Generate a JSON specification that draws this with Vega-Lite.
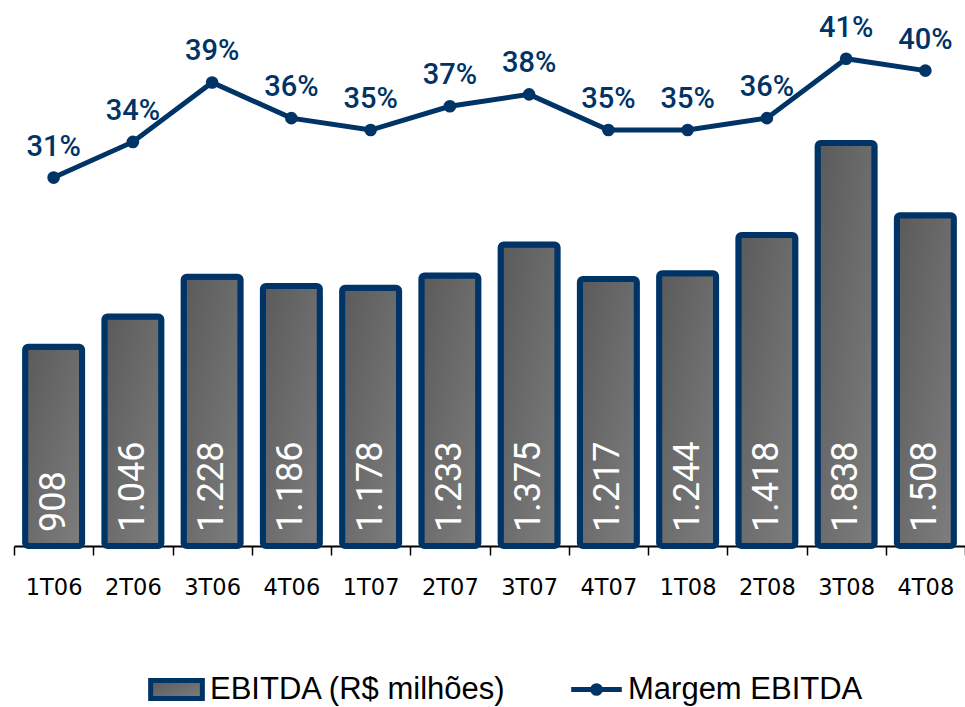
{
  "$schema": "https://vega.github.io/schema/vega-lite/v6.json",
  "width": 951,
  "height": 536,
  "autosize": {"type": "none"},
  "padding": {"left": 14, "top": 10, "right": 0, "bottom": 161},
  "background": "white",
  "config": {
    "view": {"stroke": null},
    "locale": {"number": {"decimal": ",", "thousands": ".", "grouping": [3], "currency": ["R$ ", ""]}}
  },
  "data": {
    "values": [
      {"q": "1T06", "ebitda": 908, "margem": 0.31},
      {"q": "2T06", "ebitda": 1046, "margem": 0.34},
      {"q": "3T06", "ebitda": 1228, "margem": 0.39},
      {"q": "4T06", "ebitda": 1186, "margem": 0.36},
      {"q": "1T07", "ebitda": 1178, "margem": 0.35},
      {"q": "2T07", "ebitda": 1233, "margem": 0.37},
      {"q": "3T07", "ebitda": 1375, "margem": 0.38},
      {"q": "4T07", "ebitda": 1217, "margem": 0.35},
      {"q": "1T08", "ebitda": 1244, "margem": 0.35},
      {"q": "2T08", "ebitda": 1418, "margem": 0.36},
      {"q": "3T08", "ebitda": 1838, "margem": 0.41},
      {"q": "4T08", "ebitda": 1508, "margem": 0.40}
    ]
  },
  "encoding": {
    "x": {
      "field": "q",
      "type": "nominal",
      "sort": null,
      "scale": {"paddingInner": 0, "paddingOuter": 0},
      "axis": {
        "title": null,
        "domainColor": "black",
        "domainWidth": 2,
        "tickColor": "black",
        "tickWidth": 1.5,
        "tickSize": 9,
        "tickBand": "extent",
        "labelFont": "DejaVu Sans",
        "labelFontSize": 22.5,
        "labelColor": "black",
        "labelPadding": 21,
        "labelAngle": 0,
        "grid": false
      }
    }
  },
  "layer": [
    {
      "encoding": {
        "y": {"field": "ebitda", "type": "quantitative", "scale": {"domain": [0, 2444], "nice": false}, "axis": null}
      },
      "layer": [
        {
          "mark": {
            "type": "bar",
            "size": 57,
            "strokeWidth": 6,
            "cornerRadius": 3,
            "fill": {
              "gradient": "linear", "x1": 0, "y1": 0, "x2": 1, "y2": 1,
              "stops": [{"offset": 0, "color": "#5a5a5a"}, {"offset": 1, "color": "#7e7e7e"}]
            }
          },
          "encoding": {
            "stroke": {
              "datum": "EBITDA (R$ milhões)",
              "type": "nominal",
              "scale": {"range": ["#003366"]},
              "legend": {
                "orient": "none",
                "legendX": 147,
                "legendY": 664,
                "direction": "horizontal",
                "title": null,
                "labelFont": "Liberation Sans",
                "labelFontSize": 31,
                "labelColor": "black",
                "labelLimit": 0,
                "symbolSize": 484,
                "symbolType": "M-2.35,-0.82H2.35V0.82H-2.35Z",
                "symbolStrokeWidth": 5,
                "symbolOpacity": 1,
                "labelOffset": 18
              }
            }
          }
        },
        {
          "mark": {
            "type": "text",
            "angle": 270,
            "align": "left",
            "baseline": "middle",
            "dx": 14,
            "color": "white",
            "font": "Roboto",
            "fontSize": 36,
            "fontWeight": 400
          },
          "encoding": {
            "y": {"datum": 0, "type": "quantitative"},
            "text": {"field": "ebitda", "type": "quantitative", "format": ",d"}
          }
        }
      ]
    },
    {
      "encoding": {
        "y": {"field": "margem", "type": "quantitative", "scale": {"domain": [0, 0.451], "nice": false}, "axis": null}
      },
      "layer": [
        {
          "mark": {"type": "line", "strokeWidth": 5, "color": "#003366"},
          "encoding": {
            "opacity": {
              "datum": "Margem EBITDA",
              "type": "ordinal",
              "scale": {"range": [1, 1]},
              "legend": {
                "orient": "none",
                "legendX": 567,
                "legendY": 664,
                "direction": "horizontal",
                "title": null,
                "labelFont": "Liberation Sans",
                "labelFontSize": 31,
                "labelColor": "black",
                "labelLimit": 0,
                "symbolSize": 484,
                "symbolType": "M-2.3,0H2.3M0.35,0A0.35,0.35,0,1,1,-0.35,0A0.35,0.35,0,1,1,0.35,0Z",
                "symbolFillColor": "#003366",
                "symbolStrokeColor": "#003366",
                "symbolStrokeWidth": 5,
                "symbolOpacity": 1,
                "labelOffset": 16
              }
            }
          }
        },
        {
          "mark": {"type": "circle", "size": 160, "color": "#003366", "opacity": 1}
        },
        {
          "mark": {
            "type": "text",
            "dy": -22,
            "baseline": "alphabetic",
            "font": "Roboto",
            "fontSize": 29,
            "fontWeight": 500,
            "color": "#003366"
          },
          "encoding": {
            "text": {"field": "margem", "type": "quantitative", "format": ".0%"}
          }
        }
      ]
    }
  ],
  "resolve": {"scale": {"y": "independent"}}
}
